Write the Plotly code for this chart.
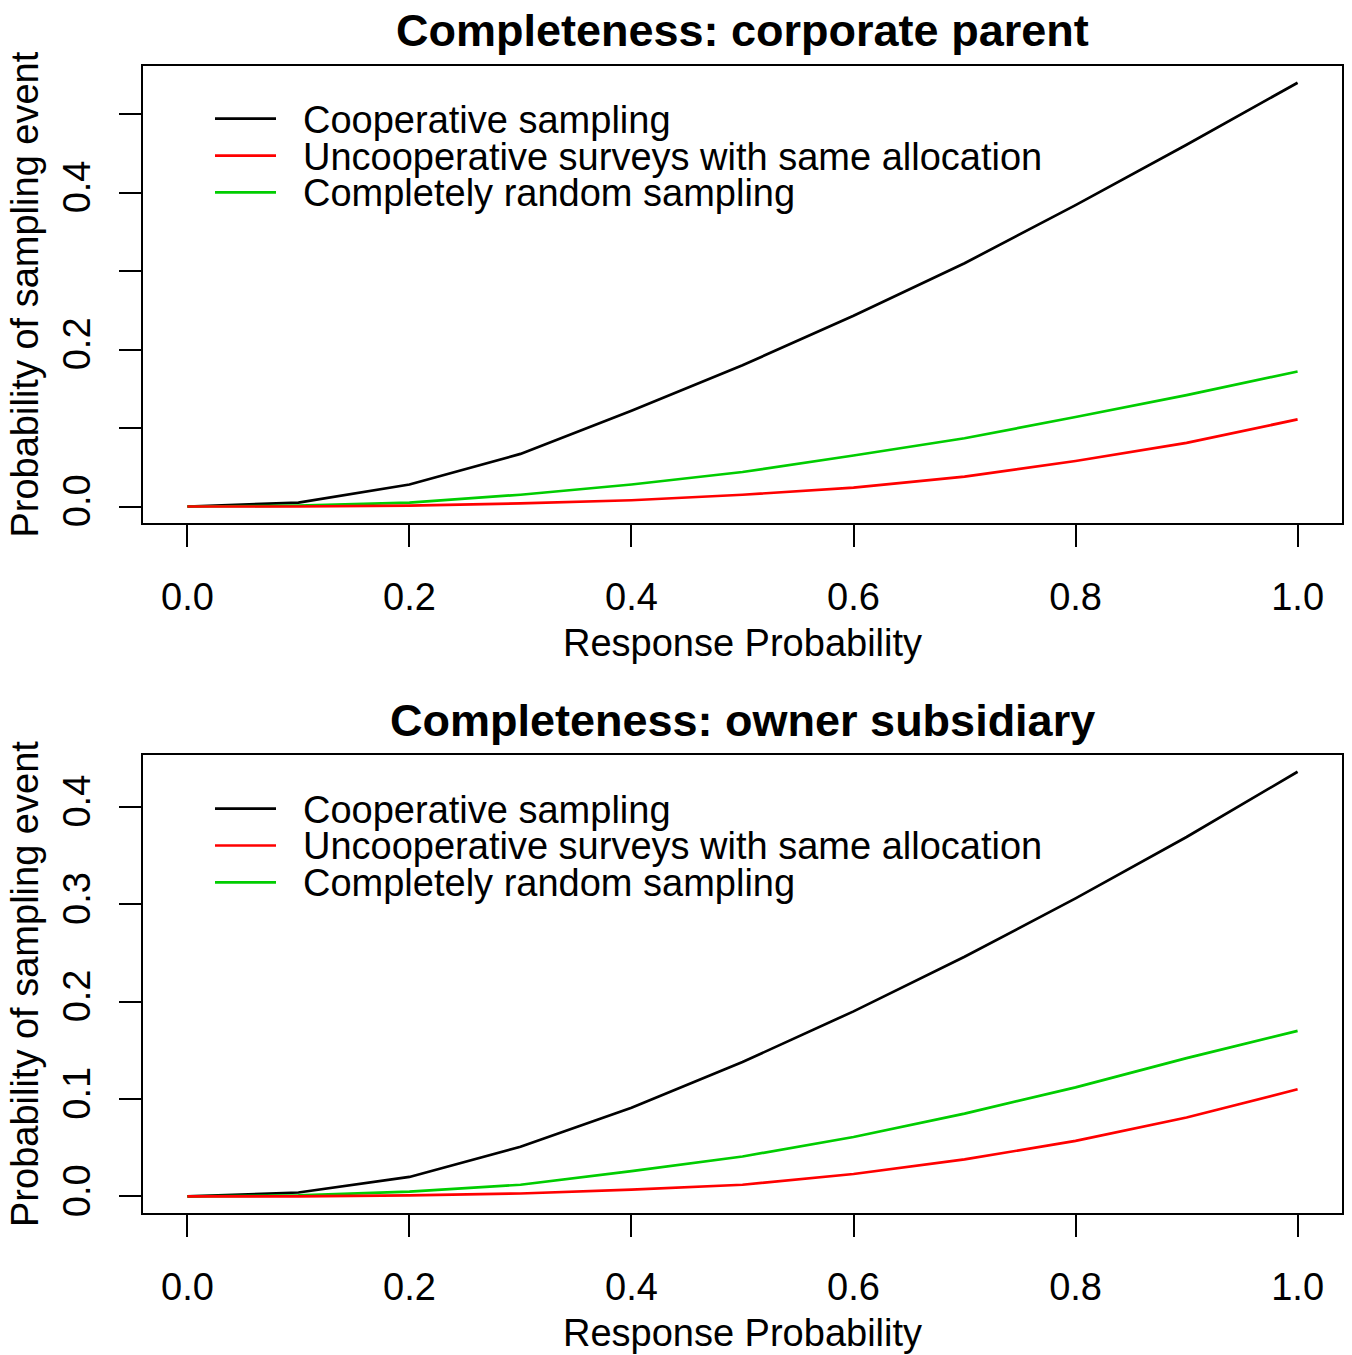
import plotly.graph_objects as go

# ---------------- data ----------------
response_prob = [0.0, 0.1, 0.2, 0.3, 0.4, 0.5, 0.6, 0.7, 0.8, 0.9, 1.0]

series_names = [
    "Cooperative sampling",
    "Uncooperative surveys with same allocation",
    "Completely random sampling",
]
series_colors = ["#000000", "#FF0000", "#00CD00"]

# Panel 1: corporate parent
parent_coop = [0.0, 0.005, 0.028, 0.067, 0.122, 0.180, 0.243, 0.310, 0.384, 0.461, 0.540]
parent_uncoop = [0.0, 0.0, 0.001, 0.004, 0.008, 0.015, 0.024, 0.038, 0.058, 0.081, 0.111]
parent_random = [0.0, 0.001, 0.005, 0.015, 0.028, 0.044, 0.065, 0.087, 0.114, 0.142, 0.172]

# Panel 2: owner subsidiary
owner_coop = [0.0, 0.004, 0.020, 0.051, 0.091, 0.138, 0.190, 0.246, 0.306, 0.369, 0.436]
owner_uncoop = [0.0, 0.0, 0.001, 0.003, 0.007, 0.012, 0.023, 0.038, 0.057, 0.081, 0.110]
owner_random = [0.0, 0.001, 0.005, 0.012, 0.026, 0.041, 0.061, 0.085, 0.112, 0.142, 0.170]

titles = ["Completeness: corporate parent", "Completeness: owner subsidiary"]
x_title = "Response Probability"
y_title = "Probability of sampling event"

x_tickvals = [0.0, 0.2, 0.4, 0.6, 0.8, 1.0]
x_ticktext = ["0.0", "0.2", "0.4", "0.6", "0.8", "1.0"]
y1_tickvals = [0.0, 0.1, 0.2, 0.3, 0.4, 0.5]
y1_ticktext = ["0.0", "", "0.2", "", "0.4", ""]
y2_tickvals = [0.0, 0.1, 0.2, 0.3, 0.4]
y2_ticktext = ["0.0", "0.1", "0.2", "0.3", "0.4"]

# ---------------- layout geometry ----------------
W, H = 1352, 1355
FONT = "Liberation Sans, Arial, Helvetica, sans-serif"
FS = 38

def px_x(p):
    return p / W

def px_y(p):
    return 1 - p / H

x_dom = [px_x(143), px_x(1342)]
y1_dom = [px_y(525), px_y(66)]
y2_dom = [px_y(1217), px_y(757)]

fig = go.Figure()

panels = [
    ([parent_coop, parent_uncoop, parent_random], "x", "y"),
    ([owner_coop, owner_uncoop, owner_random], "x2", "y2"),
]
draw_order = [0, 2, 1]  # black, green, red on top
for vals, xa, ya in panels:
    for i in draw_order:
        fig.add_trace(go.Scatter(
            x=response_prob, y=vals[i], mode="lines", name=series_names[i],
            line=dict(color=series_colors[i], width=2.7),
            xaxis=xa, yaxis=ya, showlegend=False,
        ))

def yrange(vals):
    lo = min(min(v) for v in vals)
    hi = max(max(v) for v in vals)
    d = hi - lo
    return [lo - 0.04 * d, hi + 0.04 * d]

xr = [-0.04, 1.04]
common_axis = dict(
    showline=True, mirror=True, linecolor="black", linewidth=2,
    showgrid=False, zeroline=False, ticks="outside", ticklen=22,
    tickwidth=2, tickcolor="black",
    tickfont=dict(family=FONT, size=FS, color="black"),
)
title_font = dict(family=FONT, size=FS, color="black")

fig.update_layout(
    width=W, height=H,
    margin=dict(l=0, r=0, t=0, b=0),
    paper_bgcolor="white", plot_bgcolor="white",
    showlegend=False,
    xaxis=dict(domain=x_dom, range=xr, anchor="y", tickvals=x_tickvals, ticktext=x_ticktext,
               title=dict(text=x_title, font=title_font, standoff=12),
               ticklabelstandoff=17, **common_axis),
    yaxis=dict(domain=y1_dom, range=yrange(panels[0][0]), anchor="x", tickvals=y1_tickvals,
               ticktext=y1_ticktext, tickangle=-90,
               title=dict(text=y_title, font=title_font, standoff=5),
               ticklabelstandoff=14, **common_axis),
    xaxis2=dict(domain=x_dom, range=xr, anchor="y2", tickvals=x_tickvals, ticktext=x_ticktext,
                title=dict(text=x_title, font=title_font, standoff=12),
                ticklabelstandoff=17, **common_axis),
    yaxis2=dict(domain=y2_dom, range=yrange(panels[1][0]), anchor="x2", tickvals=y2_tickvals,
                ticktext=y2_ticktext, tickangle=-90,
                title=dict(text=y_title, font=title_font, standoff=5),
                ticklabelstandoff=14, **common_axis),
)

# titles
title_y_px = [31, 723]
xc = (x_dom[0] + x_dom[1]) / 2
for t, ty in zip(titles, title_y_px):
    fig.add_annotation(text="<b>%s</b>" % t, xref="paper", yref="paper", x=xc, y=px_y(ty),
                       xanchor="center", yanchor="middle", showarrow=False,
                       font=dict(family=FONT, size=45, color="black"))

# legends (no box), drawn inside each panel
legend_rows_px = [[119, 156, 193], [811, 848, 885]]
for rows in legend_rows_px:
    for i, ry in enumerate(rows):
        fig.add_shape(type="line", xref="paper", yref="paper",
                      x0=px_x(215), x1=px_x(276), y0=px_y(ry), y1=px_y(ry),
                      line=dict(color=series_colors[i], width=2.7))
        fig.add_annotation(text=series_names[i], xref="paper", yref="paper",
                           x=px_x(301), y=px_y(ry + 1), xanchor="left", yanchor="middle",
                           showarrow=False, font=dict(family=FONT, size=FS, color="black"))

fig.write_html("out.html")
